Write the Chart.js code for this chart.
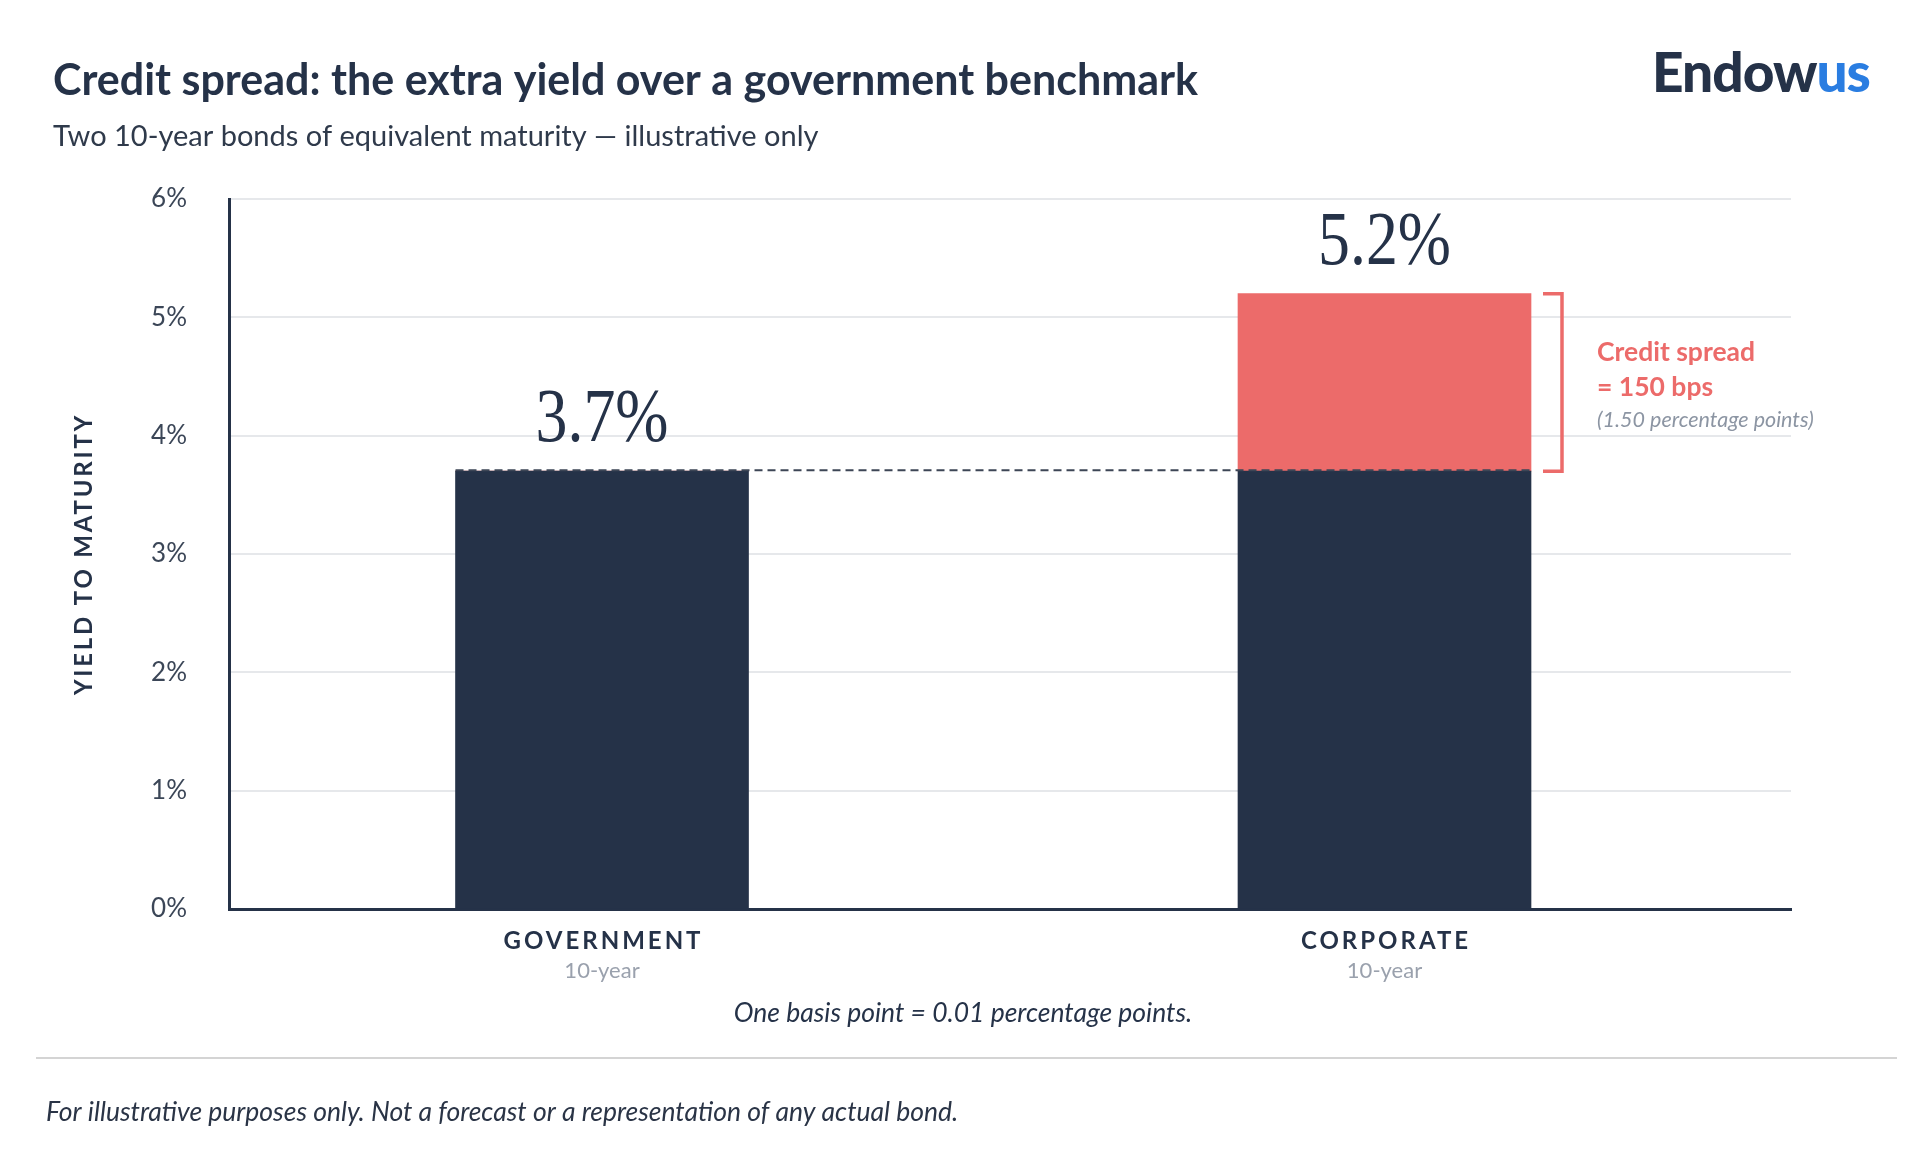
<!DOCTYPE html>
<html lang="en">
<head>
<meta charset="UTF-8">
<title>Credit spread: the extra yield over a government benchmark</title>
<script src="https://cdn.jsdelivr.net/npm/chart.js"></script>
<style>
  html, body { margin: 0; padding: 0; background: #fff; }
  #wrap { width: 1920px; height: 1160px; position: relative; }
</style>
</head>
<body>
<div id="wrap"><canvas id="chart"></canvas></div>
<script>
// chart values
const categories = ['GOVERNMENT', 'CORPORATE'];
const subLabels = ['10-year', '10-year'];
const benchmarkYield = [3.7, 3.7];   // government part of each bar
const spreadYield = [0, 1.5];        // extra yield on top
const totalLabels = ['3.7%', '5.2%'];
const yTickValues = [0, 1, 2, 3, 4, 5, 6];

const NAVY = '#253248';
const RED = '#ec6b6a';
const SANS = 'Lato, "Noto Sans", sans-serif';

const overlay = {
  id: 'overlay',
  afterDraw(chart) {
    const ctx = chart.ctx;
    const y = chart.scales.y;
    const area = chart.chartArea;
    const bars = chart.getDatasetMeta(0).data;
    ctx.save();

    // header
    ctx.fillStyle = NAVY;
    ctx.textAlign = 'left';
    ctx.textBaseline = 'alphabetic';
    ctx.font = 'bold 43px ' + SANS;
    ctx.fillText('Credit spread: the extra yield over a government benchmark', 53, 95);
    ctx.fillStyle = '#2f3a4b';
    ctx.font = '29px ' + SANS;
    ctx.fillText('Two 10-year bonds of equivalent maturity \u2014 illustrative only', 53, 146);

    // logo
    ctx.font = '900 55px ' + SANS;
    ctx.letterSpacing = '-1px';
    ctx.fillStyle = NAVY;
    ctx.fillText('Endow', 1652, 92);
    const ew = ctx.measureText('Endow').width;
    ctx.fillStyle = '#2a7de1';
    ctx.fillText('us', 1652 + ew, 92);
    ctx.letterSpacing = '0px';

    // y title
    ctx.save();
    ctx.translate(84, (area.top + area.bottom) / 2);
    ctx.rotate(-Math.PI / 2);
    ctx.textAlign = 'center';
    ctx.textBaseline = 'middle';
    ctx.fillStyle = NAVY;
    ctx.font = 'bold 24px ' + SANS;
    ctx.letterSpacing = '2.8px';
    ctx.fillText('YIELD TO MATURITY', 0, 0);
    ctx.restore();

    // dashed benchmark line across both bars
    const by = y.getPixelForValue(benchmarkYield[0]);
    const w = bars[0].width;
    ctx.beginPath();
    ctx.setLineDash([8, 5]);
    ctx.strokeStyle = '#3d4656';
    ctx.lineWidth = 2;
    ctx.moveTo(bars[0].x - w / 2, by - 1);
    ctx.lineTo(bars[1].x + w / 2, by - 1);
    ctx.stroke();
    ctx.setLineDash([]);

    // value labels and category labels
    bars.forEach((bar, i) => {
      const top = y.getPixelForValue(benchmarkYield[i] + spreadYield[i]);
      ctx.textAlign = 'center';
      ctx.fillStyle = NAVY;
      ctx.save();
      ctx.translate(bar.x, top - 30);
      ctx.scale(0.84, 1);
      ctx.font = '76px "Liberation Serif", serif';
      ctx.fillText(totalLabels[i], 0, 0);
      ctx.restore();

      ctx.font = 'bold 24px ' + SANS;
      ctx.letterSpacing = '3px';
      ctx.fillText(categories[i], bar.x + 1.5, area.bottom + 40);
      ctx.letterSpacing = '0px';
      ctx.fillStyle = '#9aa1ad';
      ctx.font = '22px ' + SANS;
      ctx.fillText(subLabels[i], bar.x, area.bottom + 69);
    });

    // bracket for the spread
    const cb = bars[1];
    const yTop = y.getPixelForValue(benchmarkYield[1] + spreadYield[1]);
    const yBot = y.getPixelForValue(benchmarkYield[1]);
    const bx = cb.x + cb.width / 2;
    ctx.beginPath();
    ctx.strokeStyle = RED;
    ctx.lineWidth = 3.5;
    ctx.moveTo(bx + 12, yTop);
    ctx.lineTo(bx + 31, yTop);
    ctx.lineTo(bx + 31, yBot);
    ctx.lineTo(bx + 12, yBot);
    ctx.stroke();

    const mid = (yTop + yBot) / 2;
    ctx.textAlign = 'left';
    ctx.fillStyle = RED;
    ctx.font = 'bold 26.5px ' + SANS;
    ctx.fillText('Credit spread', bx + 66, mid - 21);
    ctx.fillText('= 150 bps', bx + 66, mid + 14);
    ctx.fillStyle = '#8c95a3';
    ctx.font = 'italic 21.5px ' + SANS;
    ctx.fillText('(1.50 percentage points)', bx + 66, mid + 45);

    // notes
    ctx.textAlign = 'center';
    ctx.fillStyle = NAVY;
    ctx.font = 'italic 26.5px ' + SANS;
    ctx.fillText('One basis point = 0.01 percentage points.', 963, 1022);

    ctx.beginPath();
    ctx.strokeStyle = '#d4d4d4';
    ctx.lineWidth = 2;
    ctx.moveTo(36, 1058);
    ctx.lineTo(1897, 1058);
    ctx.stroke();

    ctx.textAlign = 'left';
    ctx.fillStyle = '#2a3446';
    ctx.fillText('For illustrative purposes only. Not a forecast or a representation of any actual bond.', 46, 1121);

    ctx.restore();
  }
};

function build() {
  const ctx = document.getElementById('chart').getContext('2d');
  new Chart(ctx, {
    type: 'bar',
    data: {
      datasets: [
        {
          label: 'Government benchmark',
          data: benchmarkYield.map((v, i) => ({ x: i, y: v })),
          backgroundColor: NAVY,
          barThickness: 293
        },
        {
          label: 'Credit spread',
          data: spreadYield.map((v, i) => ({ x: i, y: v })),
          backgroundColor: RED,
          barThickness: 293
        }
      ]
    },
    options: {
      responsive: true,
      maintainAspectRatio: false,
      animation: false,
      layout: { padding: { left: 0, top: 199, right: 129, bottom: 251 } },
      plugins: { legend: { display: false }, tooltip: { enabled: false } },
      scales: {
        x: {
          type: 'linear',
          stacked: true,
          offset: false,
          min: -0.4767,
          max: 1.5195,
          ticks: { display: false },
          grid: { display: false, offset: false },
          border: { color: NAVY, width: 3 },
          afterFit: s => { s.height = 0; }
        },
        y: {
          stacked: true,
          min: 0,
          max: 6,
          afterBuildTicks: s => { s.ticks = yTickValues.map(v => ({ value: v })); },
          ticks: {
            callback: v => v + '%',
            font: { family: SANS, size: 26 },
            color: '#3b4657',
            padding: 42
          },
          grid: { color: '#e6e8eb', lineWidth: 2, drawTicks: false },
          border: { color: NAVY, width: 3 },
          afterFit: s => { s.width = 229; }
        }
      }
    },
    plugins: [overlay]
  });
}

Promise.all([
  document.fonts.load('bold 42px Lato'),
  document.fonts.load('26px Lato'),
  document.fonts.load('italic 24px Lato'),
  document.fonts.load('68px "Liberation Serif"')
]).catch(() => {}).then(build);
</script>
</body>
</html>
